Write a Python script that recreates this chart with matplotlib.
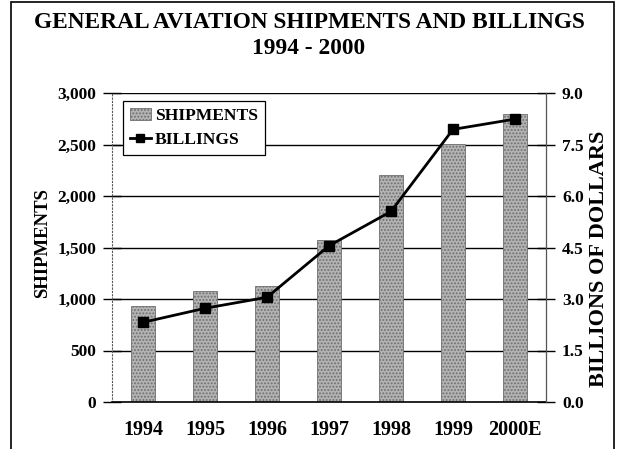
import matplotlib
matplotlib.use("Agg")
import matplotlib.pyplot as plt
from matplotlib.patches import Rectangle
from matplotlib.lines import Line2D

years = ["1994", "1995", "1996", "1997", "1998", "1999", "2000E"]
shipments = [928, 1077, 1130, 1569, 2200, 2504, 2800]
billings = [2.32, 2.73, 3.05, 4.55, 5.55, 7.94, 8.24]
left_ticks = [0, 500, 1000, 1500, 2000, 2500, 3000]
right_ticks = [0.0, 1.5, 3.0, 4.5, 6.0, 7.5, 9.0]

plt.rcParams['font.family'] = ['Liberation Serif', 'DejaVu Serif']
plt.rcParams['font.weight'] = 'bold'
plt.rcParams['hatch.linewidth'] = 0.9

fig = plt.figure(figsize=(6.18, 4.49), dpi=100)
W, H = 618, 449
ax = fig.add_axes([112 / W, 1 - 402 / H, (546 - 112) / W, (402 - 93) / H])
ax2 = ax.twinx()

# frame around figure
fig.patches.append(Rectangle((11 / W, -0.05), (614 - 11) / W, (1.05 - 2 / H),
                             transform=fig.transFigure, fill=False,
                             edgecolor='black', linewidth=1.2))

bar_face = '#b3b3b3'
bar_edge = '#6e6e6e'
x = list(range(len(years)))
ax.bar(x, shipments, width=0.39, color=bar_face, edgecolor=bar_edge,
       hatch='.....', linewidth=0.6, zorder=2, label='SHIPMENTS')
ax.set_ylim(0, 3000)
ax.set_xlim(-0.5, len(years) - 0.5)
ax.set_yticks(left_ticks)
ax.set_yticklabels([f"{v:,}" for v in left_ticks], fontsize=12.5, fontweight='bold')
ax.set_xticks(x)
ax.set_xticklabels(years, fontsize=14.5, fontweight='bold')
ax.tick_params(axis='x', length=0, pad=13)
ax.tick_params(axis='y', direction='inout', length=13, width=1, pad=5)
for v in left_ticks[1:]:
    ax.axhline(v, color='black', linewidth=1, zorder=1)
ax.spines['top'].set_visible(False)
ax.spines['left'].set_linestyle((0, (1, 2)))
ax.spines['left'].set_color('#555555')
ax.spines['bottom'].set_linewidth(1.2)
ax.set_ylabel('SHIPMENTS', fontsize=13.5, fontweight='bold')
ax.yaxis.label.set_verticalalignment('center')
ax.yaxis.label.set_horizontalalignment('center')
ax.yaxis.set_label_coords((42.5 - 112) / 434, (402 - 243) / 309)

ax2.plot(x, billings, color='black', linewidth=2, marker='s', markersize=7, zorder=3)
ax2.set_ylim(0, 9.0)
ax2.set_yticks(right_ticks)
ax2.set_yticklabels([f"{v:.1f}" for v in right_ticks], fontsize=12.5, fontweight='bold')
ax2.tick_params(axis='y', direction='inout', length=13, width=1, pad=5)
ax2.spines['top'].set_visible(False)
ax2.spines['left'].set_visible(False)
ax2.spines['right'].set_color('#555555')
ax2.spines['right'].set_linestyle((0, (1, 1)))
ax2.spines['bottom'].set_visible(False)
ax2.set_ylabel('BILLIONS OF DOLLARS', fontsize=16, fontweight='bold')
ax2.yaxis.label.set_verticalalignment('center')
ax2.yaxis.label.set_horizontalalignment('center')
ax2.yaxis.set_label_coords((599 - 112) / 434, (402 - 258.7) / 309)

handles = [
    Rectangle((0, 0), 1, 1, facecolor=bar_face, edgecolor=bar_edge, hatch='.....', linewidth=0.6),
    Line2D([0], [0], color='black', linewidth=2, marker='s', markersize=6),
]
leg = ax2.legend(handles, ['SHIPMENTS', 'BILLINGS'], loc='upper left',
                 bbox_to_anchor=(0.025, 0.974), fancybox=False, shadow=False,
                 framealpha=1, edgecolor='black', borderpad=0.38, labelspacing=0.47,
                 handlelength=1.2, handletextpad=0.25, borderaxespad=0,
                 prop={'family': 'Liberation Serif', 'weight': 'bold', 'size': 12.6})
leg.get_frame().set_linewidth(0.9)
leg.set_zorder(10)

fig.text(0.5, 1 - 22 / H, 'GENERAL AVIATION SHIPMENTS AND BILLINGS', ha='center', va='center',
         fontsize=16.8, fontweight='bold')
fig.text(0.5, 1 - 48 / H, '1994 - 2000', ha='center', va='center',
         fontsize=16.8, fontweight='bold')

fig.savefig('out.png', dpi=100)
